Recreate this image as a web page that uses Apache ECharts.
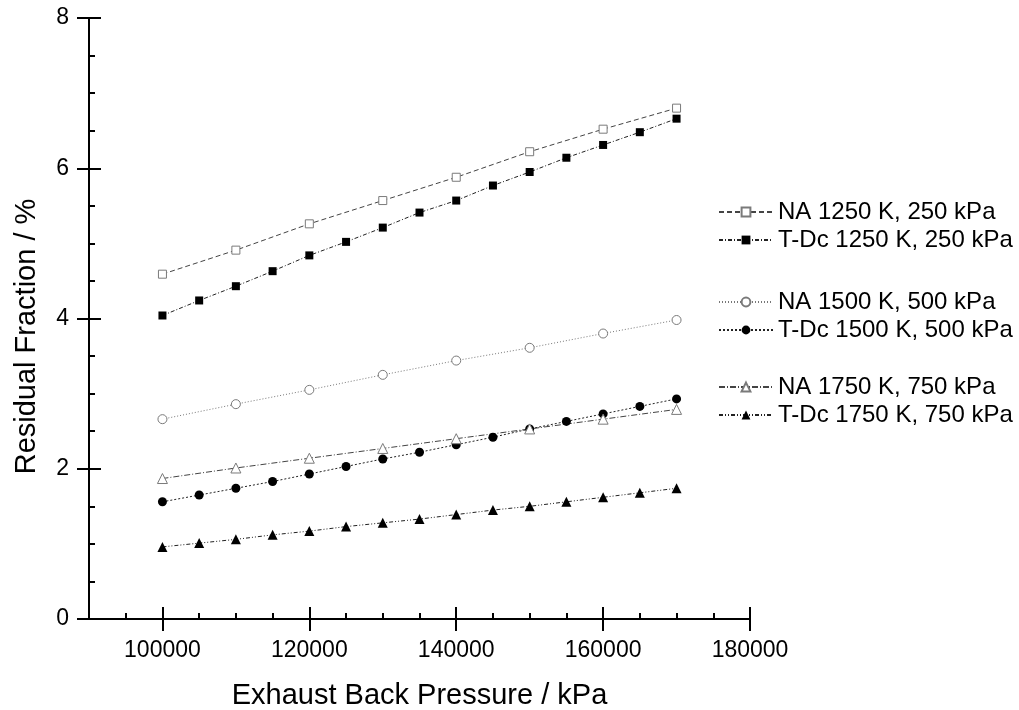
<!DOCTYPE html>
<html>
<head>
<meta charset="utf-8">
<script src="https://cdn.jsdelivr.net/npm/echarts@6/dist/echarts.min.js"></script>
<style>
  html, body { margin: 0; padding: 0; background: #fff; }
  #chart { width: 1019px; height: 710px; }
</style>
</head>
<body>
<div id="chart"></div>
<script>
// Exhaust back pressure (kPa) sample points
const xNA = [100000, 110000, 120000, 130000, 140000, 150000, 160000, 170000];
const xTDc = [100000, 105000, 110000, 115000, 120000, 125000, 130000, 135000,
              140000, 145000, 150000, 155000, 160000, 165000, 170000];

// Residual fraction (%) per engine configuration
const na1250  = [4.59, 4.91, 5.26, 5.57, 5.88, 6.22, 6.52, 6.80];
const tdc1250 = [4.04, 4.24, 4.43, 4.63, 4.84, 5.02, 5.21, 5.41, 5.57, 5.77, 5.95, 6.14, 6.31, 6.48, 6.66];
const na1500  = [2.66, 2.86, 3.05, 3.25, 3.44, 3.61, 3.80, 3.98];
const tdc1500 = [1.56, 1.65, 1.74, 1.83, 1.93, 2.03, 2.13, 2.22, 2.32, 2.42, 2.53, 2.63, 2.73, 2.83, 2.93];
const na1750  = [1.87, 2.01, 2.14, 2.27, 2.40, 2.53, 2.66, 2.79];
const tdc1750 = [0.96, 1.01, 1.06, 1.12, 1.17, 1.23, 1.28, 1.33, 1.39, 1.45, 1.50, 1.56, 1.62, 1.68, 1.74];

// Series names
const names = [
  'NA 1250 K, 250 kPa', 'T-Dc 1250 K, 250 kPa',
  'NA 1500 K, 500 kPa', 'T-Dc 1500 K, 500 kPa',
  'NA 1750 K, 750 kPa', 'T-Dc 1750 K, 750 kPa'
];

// Axis tick positions
const xMajorTicks = [100000, 120000, 140000, 160000, 180000];
const yMajorTicks = [0, 2, 4, 6, 8];

const FONT = '"Liberation Sans", Arial, Helvetica, sans-serif';

function makeSeries(name, xs, ys, symbol, size, filled, lineColor, dash) {
  return {
    name: name,
    type: 'line',
    xAxisIndex: 0,
    yAxisIndex: 0,
    data: xs.map((x, i) => [x, ys[i]]),
    symbol: symbol,
    symbolSize: size,
    showSymbol: true,
    lineStyle: { color: lineColor, width: 1, type: dash },
    itemStyle: filled
      ? { color: '#000', borderColor: '#000', borderWidth: 0 }
      : { color: '#fff', borderColor: '#7a7a7a', borderWidth: 1 },
    emphasis: { disabled: true },
    z: 3
  };
}

const chart = echarts.init(document.getElementById('chart'), null, { renderer: 'canvas' });

const axisLabelStyle = { color: '#000', fontSize: 23, fontFamily: FONT };

// One legend block per engine-temperature group, stacked down the right side
function legendBlock(top, items) {
  return {
    orient: 'vertical',
    left: 718,
    top: top,
    padding: 0,
    itemWidth: 54,
    itemHeight: 11,
    itemGap: 4,
    selectedMode: false,
    data: items,
    textStyle: { color: '#000', fontSize: 24, fontFamily: FONT }
  };
}

const option = {
  animation: false,
  backgroundColor: '#fff',
  grid: {
    left: 89, right: 269, top: 18, bottom: 91,
    containLabel: false,
    outerBoundsMode: 'none'
  },
  legend: [
    legendBlock(200, [names[0], names[1]]),
    legendBlock(290, [names[2], names[3]]),
    legendBlock(375, [names[4], names[5]])
  ],
  xAxis: [
    {
      type: 'value', position: 'bottom', min: 90000, max: 180000,
      name: 'Exhaust Back Pressure / kPa', nameLocation: 'middle', nameGap: 62,
      nameTextStyle: { color: '#000', fontSize: 29, fontFamily: FONT },
      axisLine: { show: true, onZero: false, lineStyle: { color: '#000', width: 2 } },
      axisTick: { show: true, inside: false, length: 12, customValues: xMajorTicks,
                  lineStyle: { color: '#000', width: 2 } },
      axisLabel: { show: true, margin: 20, customValues: xMajorTicks,
                   formatter: v => String(v), ...axisLabelStyle },
      splitLine: { show: false }
    },
    {
      type: 'value', position: 'bottom', min: 90000, max: 180000,
      axisLine: { show: false, onZero: false },
      axisTick: { show: true, inside: true, length: 12, customValues: xMajorTicks,
                  lineStyle: { color: '#000', width: 2 } },
      axisLabel: { show: false },
      splitLine: { show: false }
    },
    {
      type: 'value', position: 'bottom', min: 90000, max: 180000, interval: 5000,
      axisLine: { show: false, onZero: false },
      axisTick: { show: true, inside: true, length: 6, lineStyle: { color: '#000', width: 2 } },
      axisLabel: { show: false },
      splitLine: { show: false }
    }
  ],
  yAxis: [
    {
      type: 'value', position: 'left', min: 0, max: 8, interval: 2,
      name: 'Residual Fraction / %', nameLocation: 'middle', nameGap: 48, nameRotate: 90,
      nameTextStyle: { color: '#000', fontSize: 29, fontFamily: FONT, padding: [0, 36, 0, 0] },
      axisLine: { show: true, onZero: false, lineStyle: { color: '#000', width: 2 } },
      axisTick: { show: true, inside: false, length: 12, lineStyle: { color: '#000', width: 2 } },
      axisLabel: { show: true, margin: 20, customValues: yMajorTicks,
                   formatter: v => String(v), ...axisLabelStyle },
      splitLine: { show: false }
    },
    {
      type: 'value', position: 'left', min: 0, max: 8, interval: 2,
      axisLine: { show: false, onZero: false },
      axisTick: { show: true, inside: true, length: 12, lineStyle: { color: '#000', width: 2 } },
      minorTick: { show: true, splitNumber: 4, length: 6, lineStyle: { color: '#000', width: 2 } },
      axisLabel: { show: false },
      splitLine: { show: false }
    }
  ],
  series: [
    makeSeries(names[0], xNA,  na1250,  'rect',     8,  false, '#444', [5, 3]),
    makeSeries(names[1], xTDc, tdc1250, 'rect',     8,  true,  '#222', [4, 2, 1, 2]),
    makeSeries(names[2], xNA,  na1500,  'circle',   9,  false, '#777', [1, 2]),
    makeSeries(names[3], xTDc, tdc1500, 'circle',   9,  true,  '#222', [2, 2]),
    makeSeries(names[4], xNA,  na1750,  'triangle', 10, false, '#444', [6, 2, 1, 2]),
    makeSeries(names[5], xTDc, tdc1750, 'triangle', 10, true,  '#222', [4, 2, 1, 2, 1, 2])
  ]
};

chart.setOption(option);
</script>
</body>
</html>
